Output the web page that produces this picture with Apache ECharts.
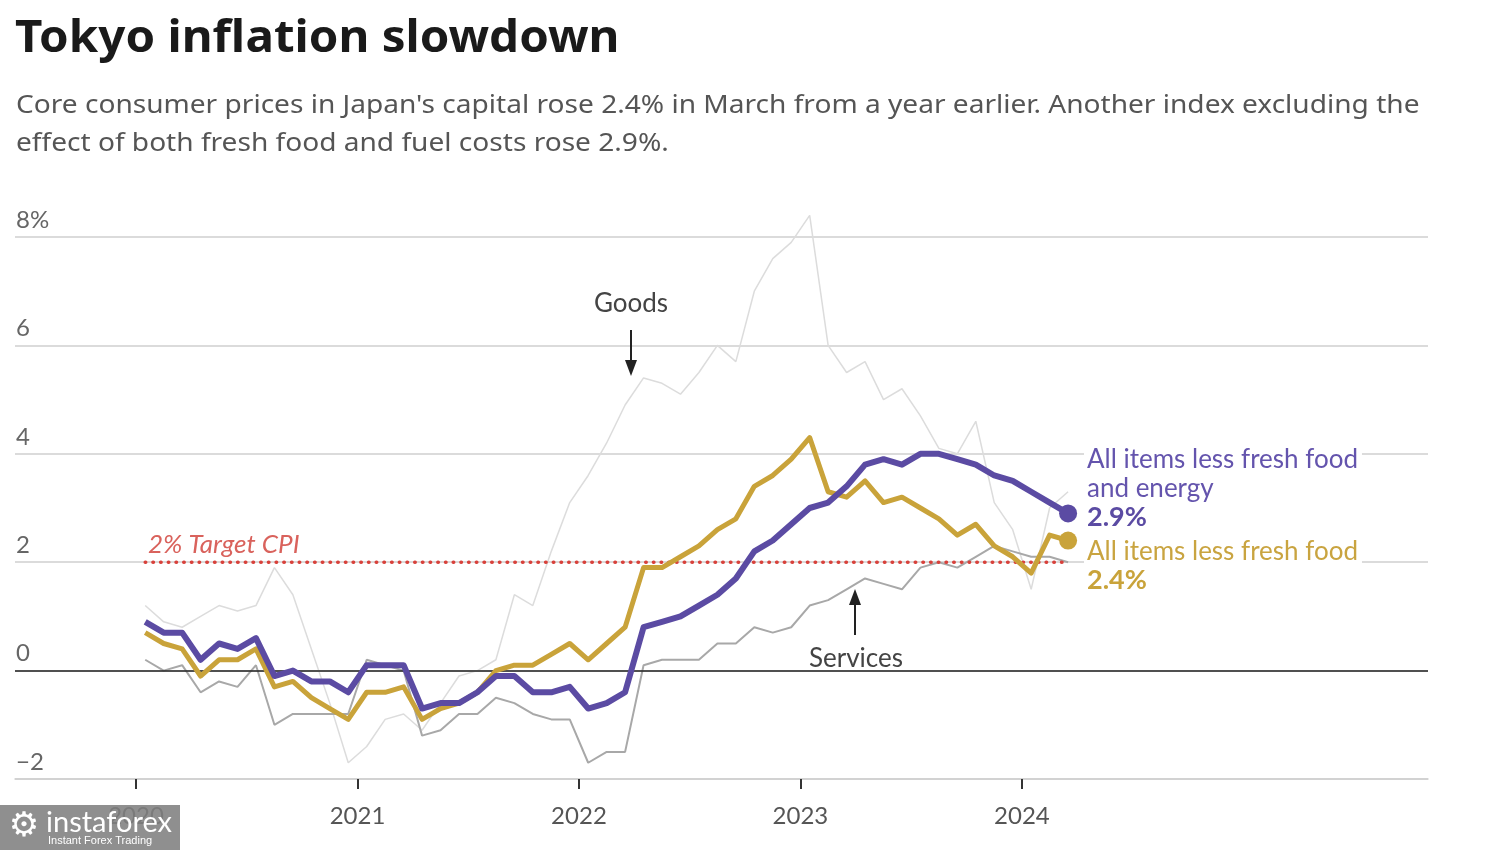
<!DOCTYPE html>
<html><head><meta charset="utf-8">
<script src="https://cdn.jsdelivr.net/npm/echarts@6/dist/echarts.min.js"></script>
<style>html,body{margin:0;padding:0;background:#fff}#c{width:1500px;height:850px}</style>
</head><body><div id="c"></div>
<script>
// ---- data ----
const startYear = 2020;
const months = [];
for (let y = 2020; y <= 2024; y++) for (let m = 1; m <= 12; m++) { if (y === 2024 && m > 3) break; months.push(y + '-' + String(m).padStart(2, '0')); }

// All items less fresh food and energy
const coreCore = [0.9,0.7,0.7,0.2,0.5,0.4,0.6,-0.1,0.0,-0.2,-0.2,-0.4,
  0.1,0.1,0.1,-0.7,-0.6,-0.6,-0.4,-0.1,-0.1,-0.4,-0.4,-0.3,
  -0.7,-0.6,-0.4,0.8,0.9,1.0,1.2,1.4,1.7,2.2,2.4,2.7,
  3.0,3.1,3.4,3.8,3.9,3.8,4.0,4.0,3.9,3.8,3.6,3.5,
  3.3,3.1,2.9];
// All items less fresh food
const core = [0.7,0.5,0.4,-0.1,0.2,0.2,0.4,-0.3,-0.2,-0.5,-0.7,-0.9,
  -0.4,-0.4,-0.3,-0.9,-0.7,-0.6,-0.4,0.0,0.1,0.1,0.3,0.5,
  0.2,0.5,0.8,1.9,1.9,2.1,2.3,2.6,2.8,3.4,3.6,3.9,
  4.3,3.3,3.2,3.5,3.1,3.2,3.0,2.8,2.5,2.7,2.3,2.1,
  1.8,2.5,2.4];
const services = [0.2,0.0,0.1,-0.4,-0.2,-0.3,0.1,-1.0,-0.8,-0.8,-0.8,-0.8,
  0.2,0.1,0.0,-1.2,-1.1,-0.8,-0.8,-0.5,-0.6,-0.8,-0.9,-0.9,
  -1.7,-1.5,-1.5,0.1,0.2,0.2,0.2,0.5,0.5,0.8,0.7,0.8,
  1.2,1.3,1.5,1.7,1.6,1.5,1.9,2.0,1.9,2.1,2.3,2.2,
  2.1,2.1,2.0];
const goods = [1.2,0.9,0.8,1.0,1.2,1.1,1.2,1.9,1.4,0.4,-0.6,-1.7,
  -1.4,-0.9,-0.8,-1.1,-0.6,-0.1,0.0,0.2,1.4,1.2,2.2,3.1,
  3.6,4.2,4.9,5.4,5.3,5.1,5.5,6.0,5.7,7.0,7.6,7.9,
  8.4,6.0,5.5,5.7,5.0,5.2,4.7,4.1,4.0,4.6,3.1,2.6,
  1.5,3.0,3.3];
const yearTicks = [2020, 2021, 2022, 2023, 2024];
const yTicks = [-2, 0, 2, 4, 6, 8];
const target = 2;

// ---- helpers ----
function monthX(s) { const [y, m] = s.split('-').map(Number); return (y - startYear) * 12 + (m - 1) + 0.5; }
function pairs(vals) { return vals.map((v, i) => [monthX(months[i]), v]); }
const last = months.length - 1;
const xFirst = monthX(months[0]), xLast = monthX(months[last]);

const PURPLE = '#5b4ba3', GOLD = '#c9a33a', FONT = 'Lato';

const chart = echarts.init(document.getElementById('c'), null, { renderer: 'canvas' });
const endSym = (v, p) => p.dataIndex === last ? 18 : 0;

const option = {
  animation: false,
  backgroundColor: '#fff',
  grid: { left: 15, top: 237, width: 1413, height: 542 },
  xAxis: {
    type: 'value', min: -6.555, max: 70,
    axisLine: { show: true, onZero: false, lineStyle: { color: '#cfcfcf', width: 1.5 } },
    axisTick: { show: true, customValues: yearTicks.map(y => (y - startYear) * 12), length: 10, lineStyle: { color: '#333', width: 2 } },
    axisLabel: { customValues: yearTicks.map(y => (y - startYear) * 12), formatter: v => String(startYear + Math.round(v / 12)), color: '#555', fontSize: 24, fontFamily: FONT, margin: 25 },
    splitLine: { show: false }
  },
  yAxis: {
    type: 'value', min: yTicks[0], max: yTicks[yTicks.length - 1], interval: 2,
    axisLine: { show: false }, axisTick: { show: false },
    splitLine: { show: true, lineStyle: { color: '#cfcfcf', width: 1.5 } },
    axisLabel: {
      inside: true, margin: 1, verticalAlign: 'bottom', lineHeight: 24, padding: [0, 0, 5, 0],
      color: '#666', fontSize: 24, fontFamily: FONT,
      formatter: v => v === yTicks[yTicks.length - 1] ? v + '%' : (v < 0 ? '\u2212' + Math.abs(v) : String(v))
    }
  },
  series: [
    { name: 'Goods', type: 'line', data: pairs(goods), symbol: 'none', clip: false, lineStyle: { color: '#dcdcdc', width: 1.5 }, silent: true, z: 2,
      markLine: { silent: true, symbol: 'none', label: { show: false }, data: [{ yAxis: 0 }], lineStyle: { color: '#222', width: 1.5, type: 'solid' } } },
    { name: 'Services', type: 'line', data: pairs(services), symbol: 'none', lineStyle: { color: '#a8a8a8', width: 2 }, silent: true, z: 3 },
    { name: 'Target', type: 'line', data: [[xFirst, target], [xLast, target]], symbol: 'none', silent: true, z: 4,
      lineStyle: { color: '#d8413b', width: 3.5, type: [0.5, 7.2], cap: 'round' } },
    { name: 'All items less fresh food', type: 'line', data: pairs(core), symbol: 'circle', symbolSize: endSym, showSymbol: true, showAllSymbol: true,
      itemStyle: { color: GOLD }, lineStyle: { color: GOLD, width: 5, join: 'round' }, silent: true, z: 5 },
    { name: 'All items less fresh food and energy', type: 'line', data: pairs(coreCore), symbol: 'circle', symbolSize: endSym, showSymbol: true, showAllSymbol: true,
      itemStyle: { color: PURPLE }, lineStyle: { color: PURPLE, width: 6, join: 'round' }, silent: true, z: 6 }
  ],
  graphic: [
    { type: 'text', x: 15, y: 17, scaleX: 1.056, style: { text: 'Tokyo inflation slowdown', font: 'bold 45px "Noto Sans"', fill: '#1a1a1a', verticalAlign: 'top' } },
    { type: 'text', x: 16, y: 87, scaleX: 1.08, style: { text: "Core consumer prices in Japan's capital rose 2.4% in March from a year earlier. Another index excluding the\neffect of both fresh food and fuel costs rose 2.9%.", font: '26px "Noto Sans"', fill: '#555', lineHeight: 38, verticalAlign: 'top' } },
    { type: 'text', x: 631, y: 304, z: 50, style: { text: 'Goods', font: '26px Lato', fill: '#444', align: 'center', verticalAlign: 'middle' } },
    { type: 'line', z: 50, shape: { x1: 631, y1: 330, x2: 631, y2: 362 }, style: { stroke: '#222', lineWidth: 2 } },
    { type: 'polygon', z: 50, shape: { points: [[625, 360], [637, 360], [631, 376]] }, style: { fill: '#222' } },
    { type: 'text', x: 856, y: 659, z: 50, style: { text: 'Services', font: '26px Lato', fill: '#444', align: 'center', verticalAlign: 'middle' } },
    { type: 'line', z: 50, shape: { x1: 855, y1: 635, x2: 855, y2: 603 }, style: { stroke: '#222', lineWidth: 2 } },
    { type: 'polygon', z: 50, shape: { points: [[849, 605], [861, 605], [855, 589]] }, style: { fill: '#222' } },
    { type: 'text', x: 148, y: 545, z: 50, style: { text: '2% Target CPI', font: 'italic 26px Lato', fill: '#d9625c', verticalAlign: 'middle' } },
    { type: 'text', x: 1084, y: 445, z: 50, style: {
        text: '{a|All items less fresh food}\n{a|and energy}\n{b|' + coreCore[last].toFixed(1) + '%}',
        backgroundColor: '#fff', padding: [0, 4, 0, 3],
        rich: { a: { font: '26px Lato', fill: '#6454ad', lineHeight: 29 }, b: { font: 'bold 27px Lato', fill: PURPLE, lineHeight: 29 } } } },
    { type: 'text', x: 1084, y: 538, z: 50, style: {
        text: '{a|All items less fresh food}\n{b|' + core[last].toFixed(1) + '%}',
        backgroundColor: '#fff', padding: [0, 4, 0, 3],
        rich: { a: { font: '26px Lato', fill: '#c9a440', lineHeight: 28 }, b: { font: 'bold 27px Lato', fill: GOLD, lineHeight: 28 } } } },
    // watermark
    { type: 'rect', z: 100, shape: { x: 0, y: 805, width: 180, height: 45 }, style: { fill: 'rgba(128,128,128,0.88)' } },
    { type: 'text', z: 101, x: 24, y: 827, style: { text: '\u2699', font: '34px "DejaVu Sans"', fill: '#fff', align: 'center', verticalAlign: 'middle' } },
    { type: 'text', z: 101, x: 46, y: 823, style: { text: 'instaforex', font: '29px Lato', fill: '#fff', verticalAlign: 'middle' } },
    { type: 'text', z: 101, x: 48, y: 841, style: { text: 'Instant Forex Trading', font: '11px "Liberation Sans"', fill: '#fff', verticalAlign: 'middle' } }
  ]
};
chart.setOption(option);
</script></body></html>
